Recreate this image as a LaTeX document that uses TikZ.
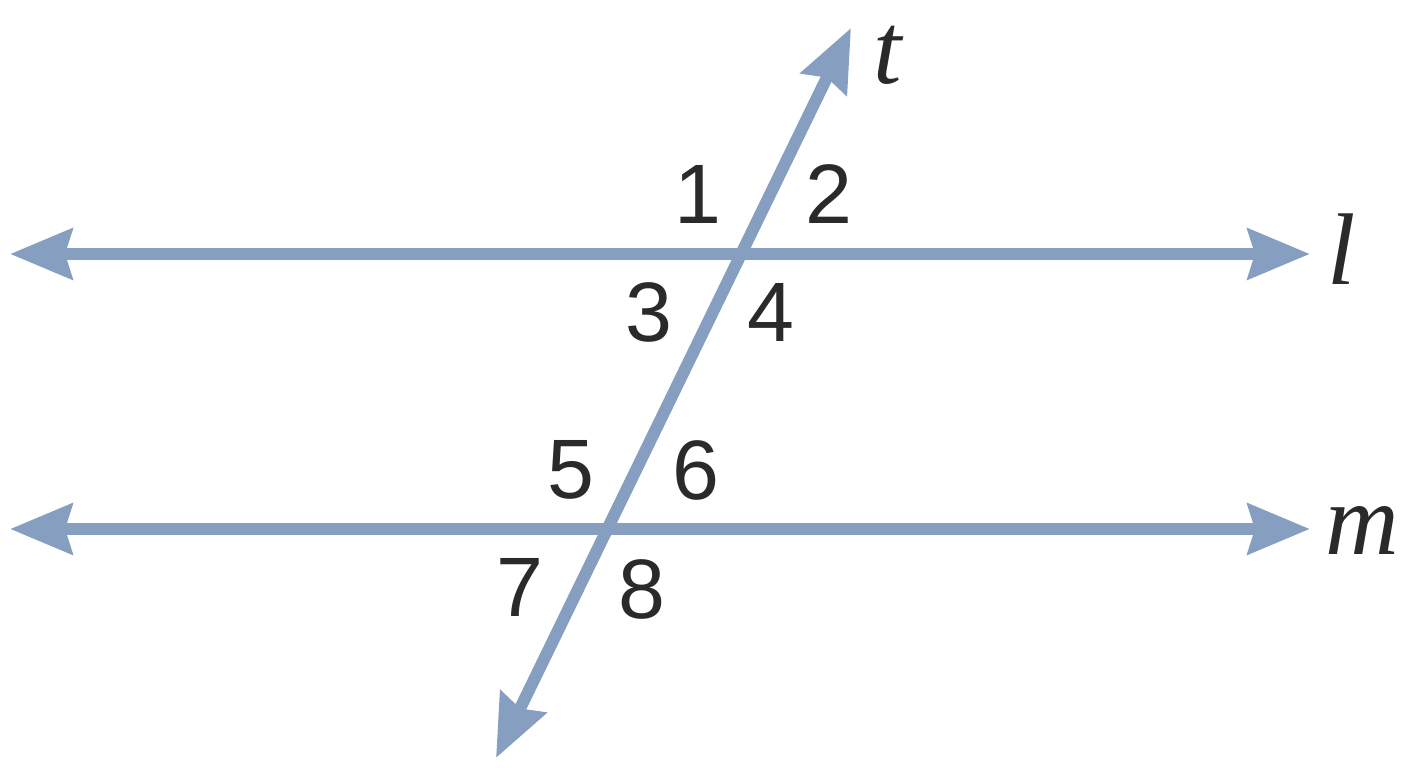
\documentclass[tikz,border=0pt]{standalone}
\usepackage{fontspec}
\setmainfont{Liberation Sans}
\newfontfamily\labelfont{Liberation Serif}
\usetikzlibrary{arrows.meta, positioning, calc}
\definecolor{linecol}{RGB}{134,159,192}
\definecolor{numcol}{RGB}{42,42,42}

\begin{document}
\begin{tikzpicture}[
  parline/.style={draw=linecol,line width=0.12cm,
    {Stealth[length=0.62cm,width=0.5cm,inset=0.07cm]}-{Stealth[length=0.62cm,width=0.5cm,inset=0.07cm]}},
  anglenum/.style={text=numcol,inner sep=0pt,font=\fontsize{24}{24}\selectfont},
  linename/.style={text=numcol,inner sep=0pt,font=\labelfont\itshape\fontsize{29}{29}\selectfont}]
\useasboundingbox (0,0) rectangle (14.08,7.68);

\coordinate (lL) at (0.10,5.14);
\coordinate (lR) at (13.10,5.14);
\coordinate (mL) at (0.10,2.39);
\coordinate (mR) at (13.10,2.39);
\coordinate (tT) at (8.51,7.40);
\coordinate (tB) at (4.96,0.10);

\draw[parline] (lL) to (lR);
\draw[parline] (mL) to (mR);
\draw[parline] (tB) to (tT);

\node[linename] (t) at (8.88,7.13){t};
\node[linename] (l) at (13.42,5.19){l};
\node[linename] (m) at (13.62,2.38){m};

\node[anglenum] (n1) at (6.98,5.74){1};
\node[anglenum] (n2) at (8.29,5.74){2};
\node[anglenum] (n3) at (6.49,4.56){3};
\node[anglenum] (n4) at (7.71,4.56){4};
\node[anglenum] (n5) at (5.71,2.98){5};
\node[anglenum] (n6) at (6.96,2.98){6};
\node[anglenum] (n7) at (5.20,1.81){7};
\node[anglenum] (n8) at (6.42,1.79){8};
\end{tikzpicture}
\end{document}
